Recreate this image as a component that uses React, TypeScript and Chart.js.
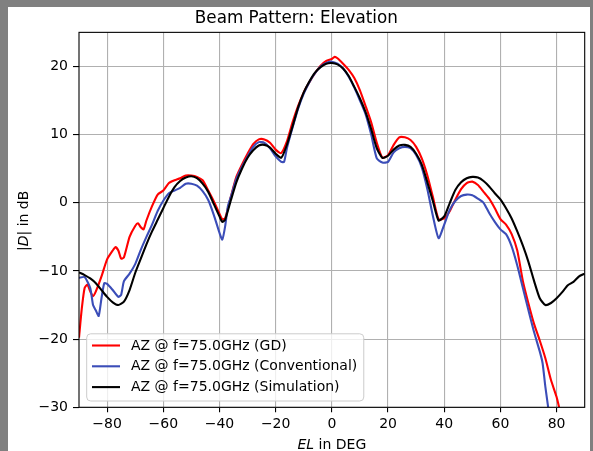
import { useEffect, useRef } from "react";
import { Chart, registerables } from "chart.js";

Chart.register(...registerables);

const TITLE = "Beam Pattern: Elevation";
const seriesLabels = [
  "AZ @ f=75.0GHz (GD)",
  "AZ @ f=75.0GHz (Conventional)",
  "AZ @ f=75.0GHz (Simulation)",
];
const seriesColors = ["#ff0000", "#3b4db8", "#000000"];
const xTicks = [-80, -60, -40, -20, 0, 20, 40, 60, 80];
const yTicks = [-30, -20, -10, 0, 10, 20];

// GD (red)
const gdDeg = [
  -90, -89, -88, -87, -86, -85, -84, -82, -80, -78, -77, -76, -75, -74, -72, -70, -69, -68, -67, -66,
  -64, -62, -60, -58, -56, -54, -52, -50, -48, -46, -44, -42, -40, -39, -38, -36, -34, -32, -30, -28,
  -26, -24, -22, -20, -18, -16, -14, -12, -10, -8, -6, -4, -2, 0, 1, 2, 4, 6, 8, 10,
  12, 14, 16, 18, 20, 22, 24, 26, 28, 30, 32, 34, 36, 38, 40, 42, 44, 46, 48, 50,
  52, 54, 56, 58, 60, 62, 64, 66, 68, 70, 72, 74, 76, 78, 80, 81,
];
const gdDb = [
  -19.8, -15.5, -12.5, -12.0, -13.0, -13.7, -13.0, -10.8, -8.3, -7.0, -6.5, -7.0, -8.2, -8.0, -5.0, -3.4, -3.0, -3.6, -3.9, -2.6,
  -0.5, 1.2, 1.8, 2.9, 3.3, 3.6, 4.0, 4.0, 3.8, 3.3, 1.8, 0.2, -1.6, -2.4, -2.3, 0.8, 3.8, 5.6, 7.2, 8.6,
  9.3, 9.3, 8.8, 7.8, 7.3, 9.0, 11.8, 14.2, 16.2, 17.7, 19.0, 20.1, 20.8, 21.1, 21.4, 21.2, 20.4, 19.5, 18.3, 16.5,
  14.2, 11.8, 8.8, 6.6, 7.0, 8.5, 9.6, 9.6, 9.2, 8.2, 6.5, 4.0, 0.8, -2.4, -2.3, -1.2, 0.5, 2.0, 2.9, 3.1,
  2.6, 1.6, 0.6, -0.8, -2.4, -3.2, -4.6, -7.0, -11.5, -14.8, -17.8, -20.2, -22.8, -26.0, -28.5, -30.2,
];

// Conventional (blue)
const convDeg = [
  -90, -88, -86, -85, -84, -83, -82, -81, -80, -78, -76, -75, -74, -72, -70, -68, -66, -64, -62, -60,
  -58, -56, -54, -52, -50, -48, -46, -44, -42, -40, -39, -38, -37, -36, -34, -32, -30, -28, -26, -24,
  -22, -20, -18, -17, -16, -14, -12, -10, -8, -6, -4, -2, 0, 2, 4, 6, 8, 10, 12, 14,
  16, 18, 20, 22, 24, 26, 28, 30, 32, 34, 36, 38, 40, 42, 44, 46, 48, 50, 52, 54,
  56, 58, 60, 62, 64, 66, 68, 70, 72, 74, 75, 76, 77,
];
const convDb = [
  -11.0, -10.9, -12.5, -15.0, -15.8, -16.6, -14.0, -11.8, -11.9, -12.8, -13.8, -13.5, -11.5, -10.4, -9.0, -6.9, -5.0, -3.2, -1.2, 0.3,
  1.4, 1.8, 2.2, 2.8, 2.8, 2.5, 1.7, 0.4, -1.8, -4.4, -5.4, -3.5, -0.5, 0.8, 3.5, 5.3, 6.8, 8.2, 8.9, 8.8,
  8.0, 6.8, 6.0, 6.0, 8.0, 11.0, 13.8, 16.0, 17.7, 19.0, 20.0, 20.5, 20.7, 20.4, 19.7, 18.5, 16.9, 15.0, 13.0, 10.0,
  6.5, 5.9, 6.0, 7.4, 8.0, 8.2, 8.0, 7.0, 5.2, 2.0, -2.0, -5.2, -3.2, -1.0, 0.3, 1.0, 1.2, 1.1, 0.6, 0.0,
  -1.5, -2.8, -3.9, -4.6, -6.4, -9.2, -12.5, -15.8, -19.0, -21.8, -23.5, -27.0, -30.0,
];

// Simulation (black)
const simDeg = [
  -90, -88, -86, -84, -82, -80, -78, -76, -74, -72, -70, -68, -66, -64, -62, -60, -58, -56, -54, -52,
  -50, -48, -46, -44, -42, -40, -39, -38, -36, -34, -32, -30, -28, -26, -24, -22, -20, -18, -16, -14,
  -12, -10, -8, -6, -4, -2, 0, 2, 4, 6, 8, 10, 12, 14, 16, 18, 20, 22, 24, 26,
  28, 30, 32, 34, 36, 38, 40, 42, 44, 46, 48, 50, 52, 54, 56, 58, 60, 62, 64, 66,
  68, 70, 72, 74, 76, 78, 80, 82, 84, 86, 88, 90,
];
const simDb = [
  -10.2, -10.6, -11.1, -11.8, -12.8, -13.8, -14.6, -15.0, -14.5, -12.8, -10.3, -8.2, -6.1, -4.2, -2.5, -0.8, 0.9, 2.3, 3.2, 3.7,
  3.9, 3.6, 2.8, 1.6, -0.2, -2.0, -2.8, -2.5, 0.3, 3.0, 5.0, 6.6, 7.7, 8.4, 8.5, 8.1, 7.2, 6.6, 8.5, 11.2,
  14.0, 16.2, 17.8, 19.1, 19.9, 20.4, 20.5, 20.3, 19.7, 18.6, 17.0, 15.3, 13.3, 10.8, 8.0, 6.6, 6.9, 7.8, 8.4, 8.5,
  8.2, 7.2, 5.6, 3.0, 0.2, -2.6, -2.0, 0.0, 1.9, 3.0, 3.6, 3.8, 3.7, 3.2, 2.4, 1.4, 0.5, -0.8, -2.3, -4.2,
  -6.3, -8.7, -11.5, -14.0, -15.0, -14.7, -14.0, -13.1, -12.1, -11.6, -10.8, -10.4,
];

const FONT = "'DejaVu Sans', sans-serif";
const TEXT = "#000000";

const toPoints = (xs: number[], ys: number[]) => xs.map((x, i) => ({ x, y: ys[i] }));
const fmt = (v: number | string) => String(v).replace("-", "\u2212");

type Part = { t: string; i?: boolean };

function drawRich(ctx: CanvasRenderingContext2D, parts: Part[], cx: number, y: number, size: number) {
  const fonts = parts.map((p) => `${p.i ? "italic " : ""}${size}px ${FONT}`);
  const widths = parts.map((p, k) => {
    ctx.font = fonts[k];
    return ctx.measureText(p.t).width;
  });
  const total = widths.reduce((a, b) => a + b, 0);
  let x = cx - total / 2;
  ctx.textAlign = "left";
  ctx.textBaseline = "alphabetic";
  parts.forEach((p, k) => {
    ctx.font = fonts[k];
    ctx.fillText(p.t, x, y);
    x += widths[k];
  });
}

const decorPlugin = {
  id: "decor",
  afterDatasetsDraw(chart: any) {
    const { ctx, chartArea: ca } = chart;
    ctx.save();
    ctx.strokeStyle = "#000";
    ctx.lineWidth = 1.1;
    ctx.strokeRect(ca.left, ca.top, ca.right - ca.left, ca.bottom - ca.top);
    ctx.restore();
  },
  afterDraw(chart: any) {
    const { ctx, chartArea: ca } = chart;
    ctx.save();
    ctx.fillStyle = TEXT;
    // x axis label
    drawRich(ctx, [{ t: "EL", i: true }, { t: " in DEG" }], (ca.left + ca.right) / 2, 442, 14);
    // y axis label
    ctx.save();
    ctx.translate(19.5, (ca.top + ca.bottom) / 2 + 1);
    ctx.rotate(-Math.PI / 2);
    drawRich(ctx, [{ t: "|" }, { t: "D", i: true }, { t: "| in dB" }], 0, 0, 14);
    ctx.restore();

    // legend
    const size = 14;
    ctx.font = `${size}px ${FONT}`;
    const labels = chart.data.datasets.map((d: any) => d.label as string);
    const maxW = Math.max(...labels.map((l: string) => ctx.measureText(l).width));
    const bx = ca.left + 7.7;
    const rowStep = 20.8;
    const bh = 11.7 + rowStep * (labels.length - 1) + 13.9;
    const by = ca.bottom - 6.3 - bh;
    const bw = 44.3 + maxW + 6.5;
    const r = 4;
    ctx.beginPath();
    ctx.moveTo(bx + r, by);
    ctx.lineTo(bx + bw - r, by);
    ctx.arcTo(bx + bw, by, bx + bw, by + r, r);
    ctx.lineTo(bx + bw, by + bh - r);
    ctx.arcTo(bx + bw, by + bh, bx + bw - r, by + bh, r);
    ctx.lineTo(bx + r, by + bh);
    ctx.arcTo(bx, by + bh, bx, by + bh - r, r);
    ctx.lineTo(bx, by + r);
    ctx.arcTo(bx, by, bx + r, by, r);
    ctx.closePath();
    ctx.fillStyle = "rgba(255,255,255,0.8)";
    ctx.fill();
    ctx.strokeStyle = "#cccccc";
    ctx.lineWidth = 1;
    ctx.stroke();

    labels.forEach((l: string, k: number) => {
      const cy = by + 11.7 + rowStep * k;
      ctx.beginPath();
      ctx.strokeStyle = chart.data.datasets[k].borderColor;
      ctx.lineWidth = 2.1;
      ctx.moveTo(bx + 5.3, cy);
      ctx.lineTo(bx + 33.3, cy);
      ctx.stroke();
      ctx.fillStyle = TEXT;
      ctx.font = `${size}px ${FONT}`;
      ctx.textAlign = "left";
      ctx.textBaseline = "middle";
      ctx.fillText(l, bx + 44.3, cy + 0.5);
    });
    ctx.restore();
  },
};

export default function App() {
  const ref = useRef<HTMLCanvasElement>(null);

  useEffect(() => {
    document.documentElement.style.overflow = "hidden";
    document.body.style.margin = "7px 0 0 8px";
    document.body.style.background = "#808080";

    const series = [
      { deg: gdDeg, db: gdDb, order: 2 },
      { deg: convDeg, db: convDb, order: 1 },
      { deg: simDeg, db: simDb, order: 0 },
    ];
    const datasets = series.map((s, k) => ({
      label: seriesLabels[k],
      data: toPoints(s.deg, s.db),
      borderColor: seriesColors[k],
      backgroundColor: seriesColors[k],
      borderWidth: 2.1,
      pointRadius: 0,
      tension: 0.2,
      fill: false,
      order: s.order,
    }));

    const tickFont = { family: FONT, size: 14 };
    const chart = new Chart(ref.current as HTMLCanvasElement, {
      type: "line",
      data: { datasets },
      options: {
        animation: false,
        responsive: false,
        layout: { padding: { left: 0, right: 5.3, top: 0, bottom: 0 } },
        plugins: {
          legend: { display: false },
          tooltip: { enabled: false },
          title: {
            display: true,
            text: TITLE,
            color: TEXT,
            font: { family: FONT, size: 16.8, weight: "normal" },
            padding: { top: 2, bottom: 3.2 },
          },
        },
        scales: {
          x: {
            type: "linear",
            min: -90,
            max: 90,
            afterBuildTicks: (s: any) => {
              s.ticks = xTicks.map((v) => ({ value: v }));
            },
            afterFit: (s: any) => {
              s.height = 43.7;
              s.paddingLeft = 0;
              s.paddingRight = 0;
            },
            ticks: {
              font: tickFont,
              color: TEXT,
              padding: 4,
              maxRotation: 0,
              autoSkip: false,
              callback: (v: any) => fmt(v),
            },
            grid: { color: "#b0b0b0", lineWidth: 1.1, tickColor: "#000", tickLength: 5, tickWidth: 1.1 },
            border: { display: false },
          },
          y: {
            type: "linear",
            min: -30,
            max: 25,
            afterBuildTicks: (s: any) => {
              s.ticks = yTicks.map((v) => ({ value: v }));
            },
            afterFit: (s: any) => {
              s.width = 71;
              s.paddingTop = 0;
              s.paddingBottom = 0;
            },
            ticks: {
              font: tickFont,
              color: TEXT,
              padding: 5,
              autoSkip: false,
              callback: (v: any) => fmt(v),
            },
            grid: { color: "#b0b0b0", lineWidth: 1.1, tickColor: "#000", tickLength: 6, tickWidth: 1.1 },
            border: { display: false },
          },
        },
      } as any,
      plugins: [decorPlugin],
    });
    return () => chart.destroy();
  }, []);

  return (
    <div style={{ width: 582, height: 444, background: "#fff" }}>
      <canvas ref={ref} width={582} height={444} style={{ display: "block" }} />
    </div>
  );
}
